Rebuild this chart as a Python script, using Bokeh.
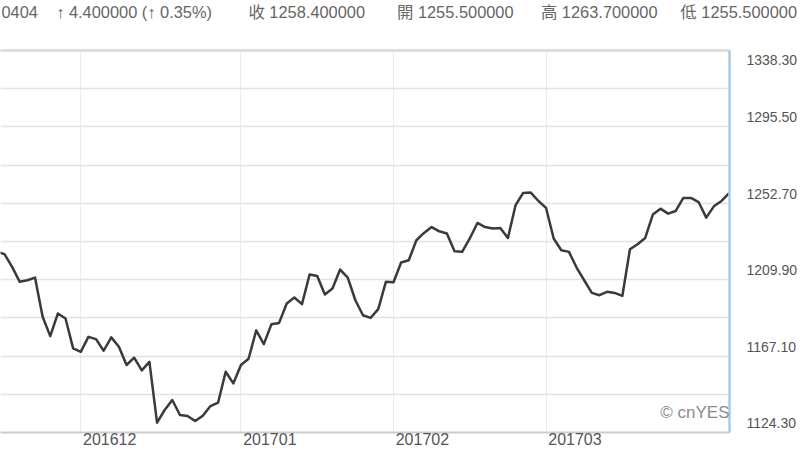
import pandas as pd
from bokeh.plotting import figure
from bokeh.models import Range1d, FixedTicker, LinearAxis, Label
from bokeh.embed import file_html
from bokeh.resources import INLINE

# ---- data -------------------------------------------------------------
holidays = ["2016-12-26", "2017-01-02", "2017-01-16"]
dates = [d for d in pd.bdate_range("2016-11-16", "2017-04-04")
         if d.strftime("%Y-%m-%d") not in holidays]

prices = [
    1225.6, 1224.2, 1217.1, 1208.7, 1209.6, 1211.1, 1189.1, 1178.3, 1191.0, 1188.2,
    1171.4, 1169.5, 1177.9, 1176.6, 1170.1, 1177.6, 1172.3, 1162.1, 1166.2, 1159.1,
    1163.9, 1129.8, 1136.9, 1142.5, 1134.1, 1133.5, 1130.7, 1133.7, 1139.1, 1141.0,
    1158.3, 1151.8, 1162.1, 1165.6, 1181.5, 1173.8, 1185.0, 1185.7, 1196.6, 1199.9,
    1196.2, 1212.8, 1212.0, 1201.6, 1205.0, 1215.6, 1211.1, 1198.4, 1190.0, 1188.5,
    1193.4, 1208.7, 1208.5, 1219.5, 1220.8, 1232.0, 1236.1, 1239.4, 1237.0, 1235.8,
    1225.9, 1225.5, 1233.0, 1241.7, 1239.4, 1238.6, 1238.9, 1233.3, 1251.6, 1258.5,
    1258.7, 1254.0, 1250.1, 1233.0, 1226.4, 1225.5, 1216.7, 1209.6, 1202.5, 1201.2,
    1203.1, 1202.5, 1200.8, 1227.0, 1229.8, 1233.3, 1246.4, 1249.7, 1246.9, 1248.4,
    1255.7, 1255.7, 1253.4, 1244.7, 1251.0, 1254.0, 1258.4,
]

y_ticks = [1124.3, 1167.1, 1209.9, 1252.7, 1295.5, 1338.3]
y_grid = [1124.3, 1145.7, 1167.1, 1188.5, 1209.9, 1231.3, 1252.7,
          1274.1, 1295.5, 1316.9, 1338.3]
month_labels = ["201612", "201701", "201702", "201703"]
header = ["0404", "↑ 4.400000 (↑ 0.35%)", "收 1258.400000",
          "開 1255.500000", "高 1263.700000", "低 1255.500000"]
watermark = "© cnYES"

# ---- derived ----------------------------------------------------------
xs = list(range(len(prices)))
month_idx = {}
for i in range(1, len(dates)):
    key = dates[i].strftime("%Y%m")
    if dates[i].month != dates[i - 1].month and key in month_labels:
        month_idx[i] = key

# y labels sit just above their grid line; the top one just below the top edge
y_label_map = {}
for v in y_ticks:
    s = f"{v:.2f}"
    y_label_map[v] = ("\n" + s) if v == max(y_ticks) else (s + "\n")

gap_spaces = [4, 8, 7, 6, 5]
nb = "\u00a0"
title_text = header[0]
for g, seg in zip(gap_spaces, header[1:]):
    title_text += nb * g + seg

FONT = "'Liberation Sans', 'Noto Sans CJK TC', sans-serif"

X0, X1 = 0.477, 96.05
FRAME_W = 731
label_shift_px = 29
d = label_shift_px * (X1 - X0) / FRAME_W

p = figure(width=800, height=450, output_backend="svg", toolbar_location=None,
           x_range=Range1d(X0, X1), y_range=Range1d(1124.3, 1338.3),
           x_axis_location="below", y_axis_location="right",
           min_border_left=0, min_border_right=69, min_border_top=50, min_border_bottom=18,
           background_fill_color="white", border_fill_color="white",
           outline_line_color=None)
p.extra_x_ranges = {"lab": Range1d(X0 - d, X1 - d)}

# title/header
p.title.text = title_text
p.title.text_font = FONT
p.title.text_font_size = "16.4px"
p.title.text_font_style = "normal"
p.title.text_color = "#666666"
p.title.align = "left"
p.title.offset = 1
p.title.standoff = 0

# grids
p.xgrid.ticker = FixedTicker(ticks=list(month_idx.keys()))
p.xgrid.grid_line_color = "#ebebeb"
p.xgrid.grid_line_width = 1
p.ygrid.ticker = FixedTicker(ticks=y_grid)
p.ygrid.grid_line_color = "#e3e3e3"
p.ygrid.grid_line_width = 1.5

# x axis (labels start at the month line)
xa = p.xaxis[0]
xa.x_range_name = "lab"
xa.ticker = FixedTicker(ticks=list(month_idx.keys()))
xa.major_label_overrides = month_idx
xa.major_tick_line_color = None
xa.minor_tick_line_color = None
xa.major_tick_out = 0
xa.major_tick_in = 0
xa.major_label_standoff = 0
xa.major_label_text_font = FONT
xa.major_label_text_font_size = "16px"
xa.major_label_text_color = "#555555"
xa.axis_line_color = "#cccccc"
xa.axis_line_width = 2

# right y axis
ya = p.yaxis[0]
ya.ticker = FixedTicker(ticks=y_ticks)
ya.major_label_overrides = y_label_map
ya.major_tick_line_color = None
ya.minor_tick_line_color = None
ya.major_tick_out = 0
ya.major_tick_in = 0
ya.major_label_standoff = 17
ya.major_label_text_font = FONT
ya.major_label_text_font_size = "14px"
ya.major_label_text_color = "#555555"
ya.axis_line_color = "#a6cde8"
ya.axis_line_width = 2.5

# top border; its blank axis label keeps the header at the top of the page
top = LinearAxis(ticker=FixedTicker(ticks=[]), major_tick_line_color=None,
                 minor_tick_line_color=None, major_tick_out=0, major_tick_in=0,
                 major_label_standoff=0, axis_label="\u00a0",
                 axis_label_text_font_size="14px", axis_label_standoff=11,
                 axis_line_color="#dedede", axis_line_width=3)
p.add_layout(top, "above")

# price line
p.line(xs, prices, line_color="#3a3a3a", line_width=2.5, line_join="round")

# watermark
p.add_layout(Label(x=729, y=20, x_units="screen", y_units="screen", text=watermark,
                   text_align="right", text_baseline="middle", text_font=FONT,
                   text_font_size="17px", text_color="#8c8c8c"))

open("out.html", "w").write(file_html(p, INLINE))
